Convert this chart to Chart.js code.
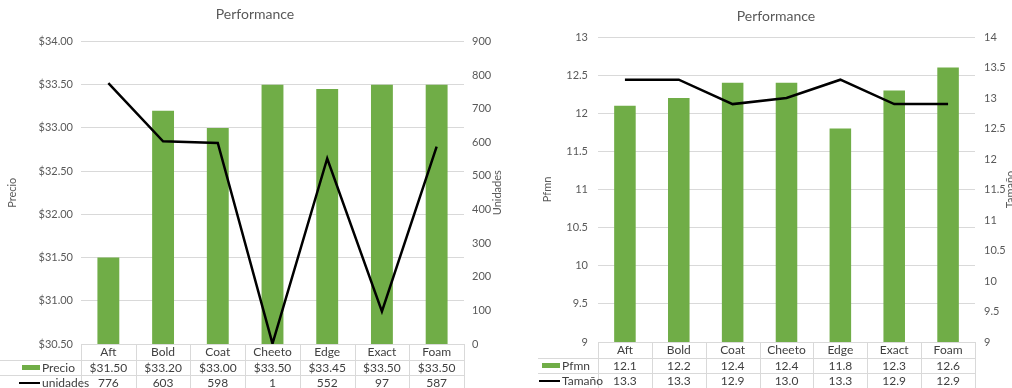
<!DOCTYPE html>
<html>
<head>
<meta charset="utf-8">
<script src="https://cdn.jsdelivr.net/npm/chart.js@4.4.1/dist/chart.umd.min.js"></script>
<style>
  html, body { margin: 0; padding: 0; background: #fff; overflow: hidden; }
  #wrap { position: relative; width: 1012px; height: 388px; overflow: hidden; }
  .panel { position: absolute; top: 0; }
  #p1 { left: 0; }
  #p2 { left: 510px; }
</style>
</head>
<body>
<div id="wrap">
  <div class="panel" id="p1"><canvas id="c1" width="510" height="388"></canvas></div>
  <div class="panel" id="p2"><canvas id="c2" width="532" height="388"></canvas></div>
</div>
<script>
// Product categories shared by both panels
const categories = ['Aft', 'Bold', 'Coat', 'Cheeto', 'Edge', 'Exact', 'Foam'];

// Left panel: price (bars) and units sold (line)
const precio   = [31.50, 33.20, 33.00, 33.50, 33.45, 33.50, 33.50];
const unidades = [776, 603, 598, 1, 552, 97, 587];

// Right panel: performance (bars) and size (line)
const pfmn   = [12.1, 12.2, 12.4, 12.4, 11.8, 12.3, 12.6];
const tamano = [13.3, 13.3, 12.9, 13.0, 13.3, 12.9, 12.9];

// Axis tick ranges
const precioTicks   = { min: 30.5, max: 34, step: 0.5 };
const unidadesTicks = { min: 0, max: 900, step: 100 };
const pfmnTicks     = { min: 9, max: 13, step: 0.5 };
const tamanoTicks   = { min: 9, max: 14, step: 0.5 };

const FONT = 'Lato, "Liberation Sans", Arial, sans-serif';
const BAR_COLOR = '#70AD47';
const TEXT_COLOR = '#595959';
const TABLE_TEXT = '#404040';
const RULE_COLOR = '#d9d9d9';

Chart.defaults.font.family = FONT;
Chart.defaults.font.size = 11;
Chart.defaults.color = TEXT_COLOR;

// Data table drawn under the plot, one column per category
const dataTablePlugin = {
  id: 'dataTable',
  afterDraw(chart, args, opts) {
    const { ctx, chartArea: a } = chart;
    const xs = chart.scales.x;
    const n = chart.data.labels.length;
    const colW = (a.right - a.left) / n;
    const top = a.bottom;
    const rowH = opts.rowHeight;
    const H = chart.height;

    ctx.save();
    ctx.strokeStyle = RULE_COLOR;
    ctx.lineWidth = 1;
    ctx.beginPath();
    ctx.moveTo(a.left, Math.round(top) + 0.5);
    ctx.lineTo(a.right, Math.round(top) + 0.5);
    for (let r = 1; r <= opts.rows.length; r++) {
      const y = Math.round(top + r * rowH) + 0.5;
      ctx.moveTo(opts.left, y);
      ctx.lineTo(a.right, y);
    }
    for (let i = 0; i <= n; i++) {
      const x = Math.round(a.left + i * colW) + 0.5;
      ctx.moveTo(x, top);
      ctx.lineTo(x, H);
    }
    ctx.stroke();

    ctx.font = `${opts.fontSize}px ${FONT}`;
    ctx.fillStyle = TABLE_TEXT;
    ctx.textAlign = 'center';
    ctx.textBaseline = 'middle';
    chart.data.labels.forEach((lab, i) => {
      ctx.fillText(lab, xs.getPixelForValue(i), top + rowH / 2 + 0.5);
    });

    opts.rows.forEach((row, r) => {
      const yc = top + (r + 1.5) * rowH + 0.5;
      ctx.fillStyle = TABLE_TEXT;
      ctx.textAlign = 'center';
      row.values.forEach((v, i) => {
        ctx.fillText(row.format(v), xs.getPixelForValue(i), yc);
      });
      const tx = a.left + opts.labelOffset;
      ctx.textAlign = 'left';
      ctx.fillText(row.label, tx, yc);
      if (row.kind === 'bar') {
        ctx.fillStyle = BAR_COLOR;
        ctx.fillRect(tx - 20, Math.round(yc) - 3, 18, 5);
      } else {
        ctx.fillStyle = '#000';
        ctx.fillRect(tx - 23, Math.round(yc) - 1, 21, 2);
      }
    });
    ctx.restore();
  }
};

// Secondary axis title, rotated to read bottom-to-top
const sideTitlePlugin = {
  id: 'sideTitle',
  afterDraw(chart, args, opts) {
    const s = chart.scales[opts.axis];
    const { ctx, chartArea: a } = chart;
    ctx.save();
    ctx.font = `${opts.size}px ${FONT}`;
    ctx.fillStyle = TEXT_COLOR;
    ctx.translate(s.right - opts.offset, (a.top + a.bottom) / 2);
    ctx.rotate(-Math.PI / 2);
    ctx.textAlign = 'center';
    ctx.textBaseline = 'middle';
    ctx.fillText(opts.text, 0, 0);
    ctx.restore();
  }
};

function buildChart(canvas, spec) {
  return new Chart(canvas, {
    type: 'bar',
    data: {
      labels: categories,
      datasets: [
        {
          type: 'line', label: spec.lineLabel, data: spec.lineData, yAxisID: 'y1',
          borderColor: '#000', borderWidth: 2.5, pointRadius: 0, tension: 0,
          fill: false, order: 0
        },
        {
          type: 'bar', label: spec.barLabel, data: spec.barData, yAxisID: 'y',
          backgroundColor: BAR_COLOR, barPercentage: 0.4, categoryPercentage: 1, order: 1
        }
      ]
    },
    options: {
      responsive: false,
      animation: false,
      layout: { padding: { left: 0, right: 0, top: 0, bottom: spec.tableSpace } },
      plugins: {
        legend: { display: false },
        tooltip: { enabled: false },
        title: {
          display: true, text: 'Performance', color: TEXT_COLOR,
          font: { size: 14, weight: 'normal' }, padding: spec.titlePadding
        },
        dataTable: {
          rowHeight: 15.5, fontSize: 12, left: spec.tableLeft, labelOffset: spec.labelOffset,
          rows: [
            { label: spec.barLabel, values: spec.barData, format: spec.barFormat, kind: 'bar' },
            { label: spec.lineLabel, values: spec.lineData, format: spec.lineFormat, kind: 'line' }
          ]
        },
        sideTitle: { axis: 'y1', text: spec.rightTitle, size: 11, offset: spec.rightTitleOffset }
      },
      scales: {
        x: { display: false },
        y: {
          position: 'left',
          min: spec.leftTicks.min, max: spec.leftTicks.max,
          ticks: { stepSize: spec.leftTicks.step, padding: spec.leftTickPad, callback: spec.leftFormat, color: TEXT_COLOR },
          grid: { color: RULE_COLOR, drawTicks: false },
          border: { display: false },
          title: { display: true, text: spec.leftTitle, color: TEXT_COLOR, font: { size: 11 }, padding: { top: spec.leftTitlePad, bottom: 0 } },
          afterFit(s) { s.width = spec.leftWidth; }
        },
        y1: {
          position: 'right',
          min: spec.rightTicks.min, max: spec.rightTicks.max,
          ticks: { stepSize: spec.rightTicks.step, padding: spec.rightTickPad, callback: spec.rightFormat, color: TEXT_COLOR },
          grid: { display: false, drawTicks: false },
          border: { display: false },
          afterFit(s) { s.width = spec.rightWidth; }
        }
      }
    },
    plugins: [dataTablePlugin, sideTitlePlugin]
  });
}

const money = v => '$' + Number(v).toFixed(2);
const plain = v => String(Number(v));
const oneDec = v => Number(v).toFixed(1);

buildChart(document.getElementById('c1'), {
  barLabel: 'Precio', barData: precio, barFormat: money,
  lineLabel: 'unidades', lineData: unidades, lineFormat: plain,
  leftTicks: precioTicks, rightTicks: unidadesTicks,
  leftFormat: money, rightFormat: plain,
  leftTitle: 'Precio', rightTitle: 'Unidades',
  leftWidth: 81, rightWidth: 46, leftTickPad: 8, rightTickPad: 8,
  leftTitlePad: 6, rightTitleOffset: 13,
  titlePadding: { top: 6, bottom: 18.7 }, tableSpace: 44,
  tableLeft: 0, labelOffset: -39
});

buildChart(document.getElementById('c2'), {
  barLabel: 'Pfmn', barData: pfmn, barFormat: oneDec,
  lineLabel: 'Tamaño', lineData: tamano, lineFormat: oneDec,
  leftTicks: pfmnTicks, rightTicks: tamanoTicks,
  leftFormat: plain, rightFormat: plain,
  leftTitle: 'Pfmn', rightTitle: 'Tamaño',
  leftWidth: 88, rightWidth: 67, leftTickPad: 10, rightTickPad: 9,
  leftTitlePad: 31, rightTitleOffset: 32,
  titlePadding: { top: 8, bottom: 12.2 }, tableSpace: 46,
  tableLeft: 28, labelOffset: -36
});
</script>
</body>
</html>
